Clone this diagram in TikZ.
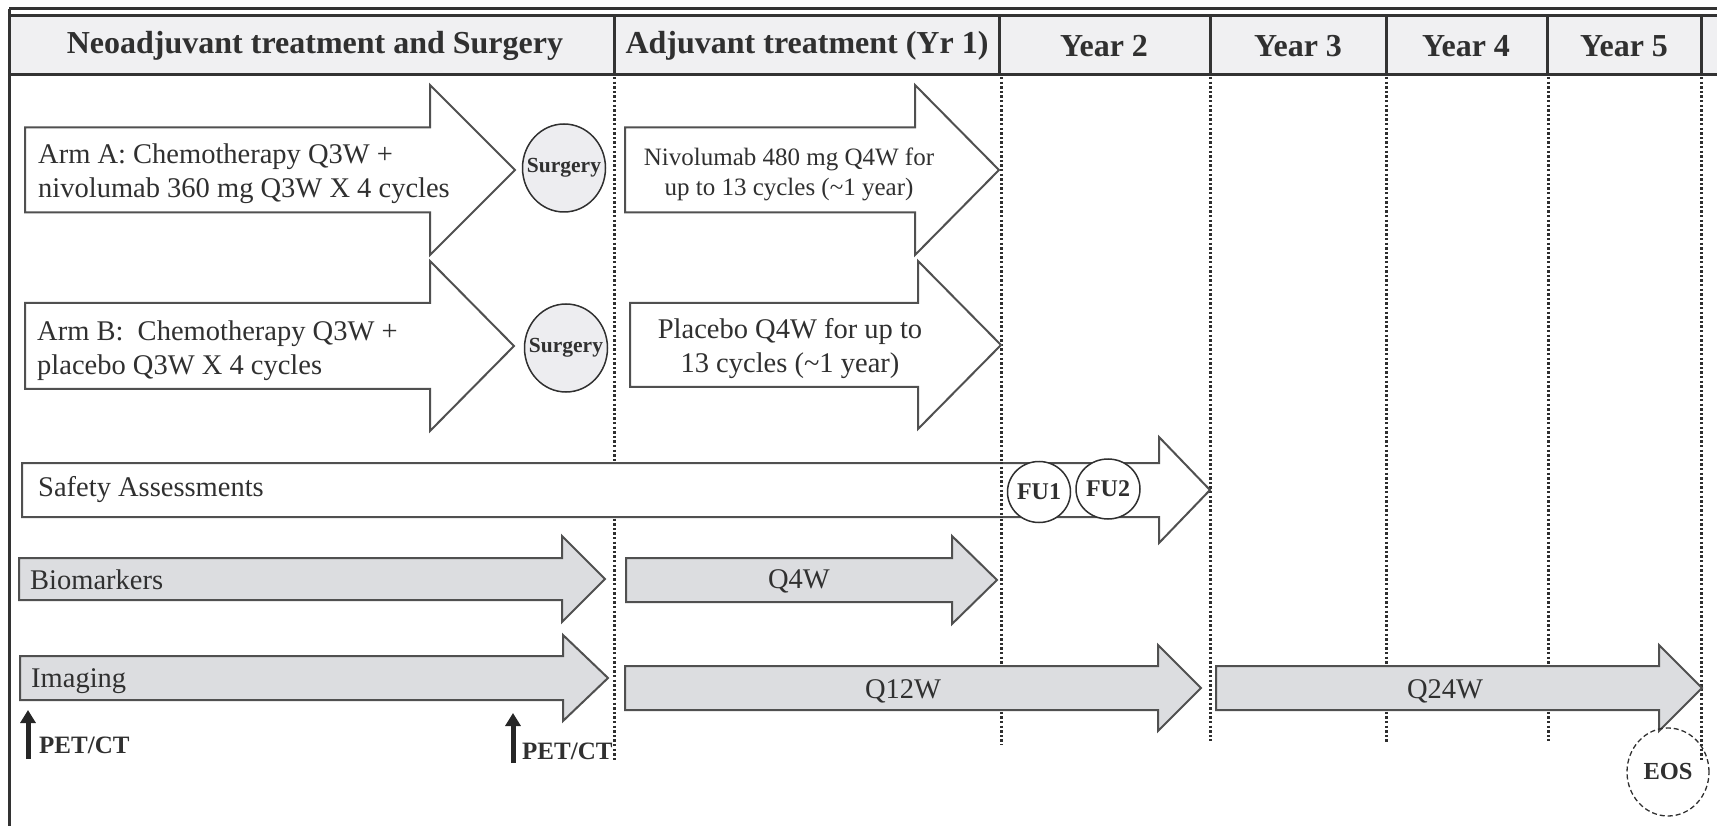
\documentclass[tikz,border=0pt]{standalone}
\usepackage{fontspec}
\setmainfont{Liberation Serif}
\usetikzlibrary{shapes.geometric,arrows.meta}

\definecolor{ink}{HTML}{303030}
\definecolor{rule}{HTML}{333333}
\definecolor{edge}{HTML}{505050}
\definecolor{headfill}{HTML}{F0F0F2}
\definecolor{greyfill}{HTML}{DCDDE0}
\definecolor{surgfill}{HTML}{EDEDF0}

% block arrow: style, left x, head base x, tip x, centre y, half body, half head
\newcommand\tlarrow[7]{%
  \draw[#1] (#2,#5-#6) -- (#3,#5-#6) -- (#3,#5-#7) -- (#4,#5)
    -- (#3,#5+#7) -- (#3,#5+#6) -- (#2,#5+#6) -- cycle;}
% text that does not widen the ellipse around it
\newcommand\inbubble[1]{\makebox[0pt]{#1}}

\tikzset{
  hdr/.style={font=\fontsize{32}{38}\selectfont\bfseries, text=ink, inner sep=0pt},
  lbl/.style={font=\fontsize{28.5}{34}\selectfont, text=ink, inner sep=0pt},
  small/.style={font=\fontsize{25}{30}\selectfont, text=ink, inner sep=0pt},
  whitearrow/.style={draw=edge, line width=2pt, fill=white, line join=miter},
  greyarrow/.style={draw=edge, line width=2pt, fill=greyfill, line join=miter},
  divider/.style={draw=rule!90!black, line width=3pt, dash pattern=on 2.4pt off 2.2pt},
  frame/.style={draw=rule, line width=3pt},
  bubble/.style={ellipse, draw=ink, line width=1.5pt, inner sep=0pt,
    font=\bfseries, text=ink},
  petarrow/.style={draw=black!85, line width=5pt,
    -{Triangle[width=15pt,length=13pt]}},
}

\begin{document}
\begin{tikzpicture}[x=1pt,y=-1pt]
\useasboundingbox (0,0) rectangle (1717,826);

% header band
\fill[headfill] (9,16) rectangle (1720,75);
\draw[frame] (9,9) -- (1720,9);
\draw[frame] (9,16) -- (1720,16);
\draw[frame] (9,75) -- (1720,75);
\draw[frame] (9,9) -- (9,826);
\foreach \x in {614,999,1210,1386,1547,1701}
  \draw[frame] (\x,16) -- (\x,75);

\node[hdr] (h0) at (315,46) {Neoadjuvant treatment and Surgery};
\node[hdr] (h1) at (807,46) {Adjuvant treatment (Yr 1)};
\node[hdr] (h2) at (1104,46) {Year 2};
\node[hdr] (h3) at (1298,46) {Year 3};
\node[hdr] (h4) at (1466,46) {Year 4};
\node[hdr] (h5) at (1624,46) {Year 5};

% period boundaries
\draw[divider] (614,77) -- (614,760);
\draw[divider] (1001,77) -- (1001,745);
\draw[divider] (1210,77) -- (1210,741);
\draw[divider] (1386,77) -- (1386,742);
\draw[divider] (1548,77) -- (1548,741);
\draw[divider] (1701,77) -- (1701,762);

% treatment arms
\tlarrow{whitearrow}{25}{430}{515}{170}{42.5}{85}
\node[lbl, anchor=west, align=left] (armA) at (38,174)
  {Arm A: Chemotherapy Q3W +\\nivolumab 360 mg Q3W X 4 cycles};
\tlarrow{whitearrow}{25}{430}{514}{346}{43}{85}
\node[lbl, anchor=west, align=left] (armB) at (37,351)
  {Arm B:\ \ Chemotherapy Q3W +\\placebo Q3W X 4 cycles};

\node[bubble, fill=surgfill, minimum width=83pt, minimum height=88pt,
  font=\fontsize{21.5}{24}\selectfont\bfseries] (surgA) at (564,168)
  {\inbubble{Surgery}};
\node[bubble, fill=surgfill, minimum width=83pt, minimum height=88pt,
  font=\fontsize{21.5}{24}\selectfont\bfseries] (surgB) at (566,348)
  {\inbubble{Surgery}};

\tlarrow{whitearrow}{625}{915}{999}{170}{42.5}{85}
\node[small, align=center] (nivo) at (789,174)
  {Nivolumab 480 mg Q4W for\\up to 13 cycles (\textasciitilde1 year)};
\tlarrow{whitearrow}{630}{918}{1001}{345}{42}{84}
\node[lbl, align=center] (plac) at (790,349)
  {Placebo Q4W for up to\\13 cycles (\textasciitilde1 year)};

% safety assessments
\tlarrow{whitearrow}{22}{1159}{1210}{490}{27}{53}
\draw[divider] (1001,462) -- (1001,518);
\node[lbl, anchor=west] (safety) at (38,490) {Safety Assessments};
\node[bubble, fill=white, minimum width=63pt, minimum height=61pt,
  font=\fontsize{24}{28}\selectfont\bfseries] (fu1) at (1039,492) {\inbubble{FU1}};
\node[bubble, fill=white, minimum width=64pt, minimum height=60pt,
  font=\fontsize{24}{28}\selectfont\bfseries] (fu2) at (1108,489) {\inbubble{FU2}};

% biomarkers
\tlarrow{greyarrow}{19}{562}{605}{579}{21}{43}
\node[lbl, anchor=west] (bio) at (30,580) {Biomarkers};
\tlarrow{greyarrow}{626}{952}{997}{580}{22}{44}
\node[lbl] (q4w) at (799,581) {Q4W};

% imaging
\tlarrow{greyarrow}{20}{563}{608}{678}{22}{43}
\node[lbl, anchor=west] (img) at (31,681) {Imaging};
\tlarrow{greyarrow}{625}{1158}{1201}{688}{22}{43}
\node[lbl] (q12w) at (903,691) {Q12W};
\tlarrow{greyarrow}{1216}{1659}{1702}{688}{22}{43}
\node[lbl] (q24w) at (1445,691) {Q24W};

% PET/CT scans
\coordinate (pet1a) at (28,759);
\coordinate (pet1b) at (28,710);
\coordinate (pet2a) at (513,763);
\coordinate (pet2b) at (513,713);
\draw[petarrow] (pet1a) -- (pet1b);
\draw[petarrow] (pet2a) -- (pet2b);
\node[anchor=west, inner sep=0pt, text=ink,
  font=\fontsize{25}{30}\selectfont\bfseries] (pet1) at (39,745) {PET/CT};
\node[anchor=west, inner sep=0pt, text=ink,
  font=\fontsize{25}{30}\selectfont\bfseries] (pet2) at (522,751) {PET/CT};

% end of study
\node[bubble, dashed, dash pattern=on 5pt off 3pt, line width=1.3pt,
  minimum width=82pt, minimum height=88pt,
  font=\fontsize{24.5}{28}\selectfont\bfseries] (eos) at (1668,772) {\inbubble{EOS}};
\end{tikzpicture}
\end{document}
